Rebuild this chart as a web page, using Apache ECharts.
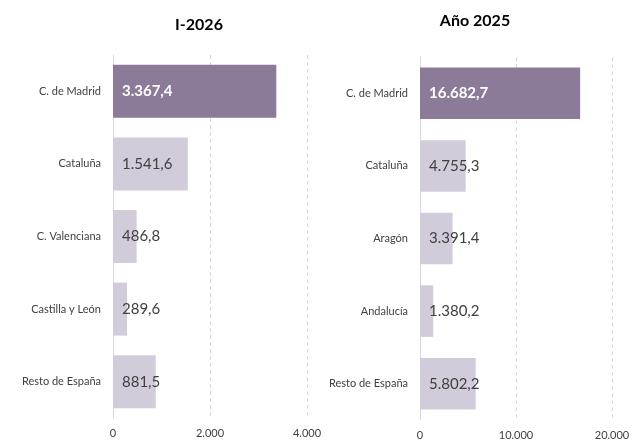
<!DOCTYPE html>
<html>
<head>
<meta charset="utf-8">
<script src="https://cdn.jsdelivr.net/npm/echarts@6/dist/echarts.min.js"></script>
<style>
  html, body { margin: 0; padding: 0; background: #fff; }
  #chart { width: 633px; height: 441px; }
</style>
</head>
<body>
<div id="chart"></div>
<script>
// I-2026
const catsLeft = ['C. de Madrid', 'Cataluña', 'C. Valenciana', 'Castilla y León', 'Resto de España']
const valsLeft = [3367.4, 1541.6, 486.8, 289.6, 881.5]
// Año 2025
const catsRight = ['C. de Madrid', 'Cataluña', 'Aragón', 'Andalucía', 'Resto de España']
const valsRight = [16682.7, 4755.3, 3391.4, 1380.2, 5802.2]

const DARK = '#8b7b99'
const LIGHT = '#d2cbda'
const FONT = 'Lato, "Open Sans", sans-serif'

// formato español: 3.367,4
function fmt(v, dec) {
  const parts = v.toFixed(dec).split('.')
  parts[0] = parts[0].replace(/\B(?=(\d{3})+(?!\d))/g, '.')
  return parts.length > 1 ? parts[0] + ',' + parts[1] : parts[0]
}

function barData(vals) {
  return vals.map((v, i) => ({
    value: v,
    itemStyle: { color: i === 0 ? DARK : LIGHT },
    label: i === 0
      ? { color: '#fff', fontWeight: 'bold' }
      : { color: '#404040', fontWeight: 'normal' },
  }))
}

function valueAxis(gridIndex, max, interval) {
  return {
    type: 'value',
    gridIndex,
    min: 0,
    max,
    interval,
    axisLine: { show: false },
    axisTick: { show: false },
    axisLabel: {
      color: '#404040',
      fontFamily: FONT,
      fontSize: 11,
      margin: 10,
      formatter: (v) => fmt(v, 0),
    },
    splitLine: {
      show: true,
      lineStyle: { color: '#d9d9d9', type: [4, 3], width: 1 },
    },
  }
}

function catAxis(gridIndex, cats) {
  return {
    type: 'category',
    gridIndex,
    data: cats,
    inverse: true,
    axisLine: { show: true, lineStyle: { color: '#d9d9d9', width: 1 } },
    axisTick: { show: false },
    axisLabel: { color: '#404040', fontFamily: FONT, fontSize: 11, margin: 12 },
  }
}

const chart = echarts.init(document.getElementById('chart'))
chart.setOption({
  animation: false,
  title: [
    { text: 'I-2026', left: 194, top: 12, textAlign: 'center',
      textStyle: { fontFamily: FONT, fontSize: 16, fontWeight: 'bold', color: '#000' } },
    { text: 'Año 2025', left: 470, top: 8, textAlign: 'center',
      textStyle: { fontFamily: FONT, fontSize: 16, fontWeight: 'bold', color: '#000' } },
  ],
  grid: [
    { left: 113, right: 326, top: 55, bottom: 23 },
    { left: 420, right: 21, top: 57, bottom: 21 },
  ],
  xAxis: [valueAxis(0, 4000, 2000), valueAxis(1, 20000, 10000)],
  yAxis: [catAxis(0, catsLeft), catAxis(1, catsRight)],
  series: [
    {
      type: 'bar',
      xAxisIndex: 0,
      yAxisIndex: 0,
      barCategoryGap: '27%',
      data: barData(valsLeft),
      label: {
        show: true,
        position: 'insideLeft',
        offset: [4, 0],
        fontFamily: FONT,
        fontSize: 15,
        formatter: (p) => fmt(p.value, 1),
      },
    },
    {
      type: 'bar',
      xAxisIndex: 1,
      yAxisIndex: 1,
      barCategoryGap: '29%',
      data: barData(valsRight),
      label: {
        show: true,
        position: 'insideLeft',
        offset: [4, 0],
        fontFamily: FONT,
        fontSize: 15,
        formatter: (p) => fmt(p.value, 1),
      },
    },
  ],
})
</script>
</body>
</html>
